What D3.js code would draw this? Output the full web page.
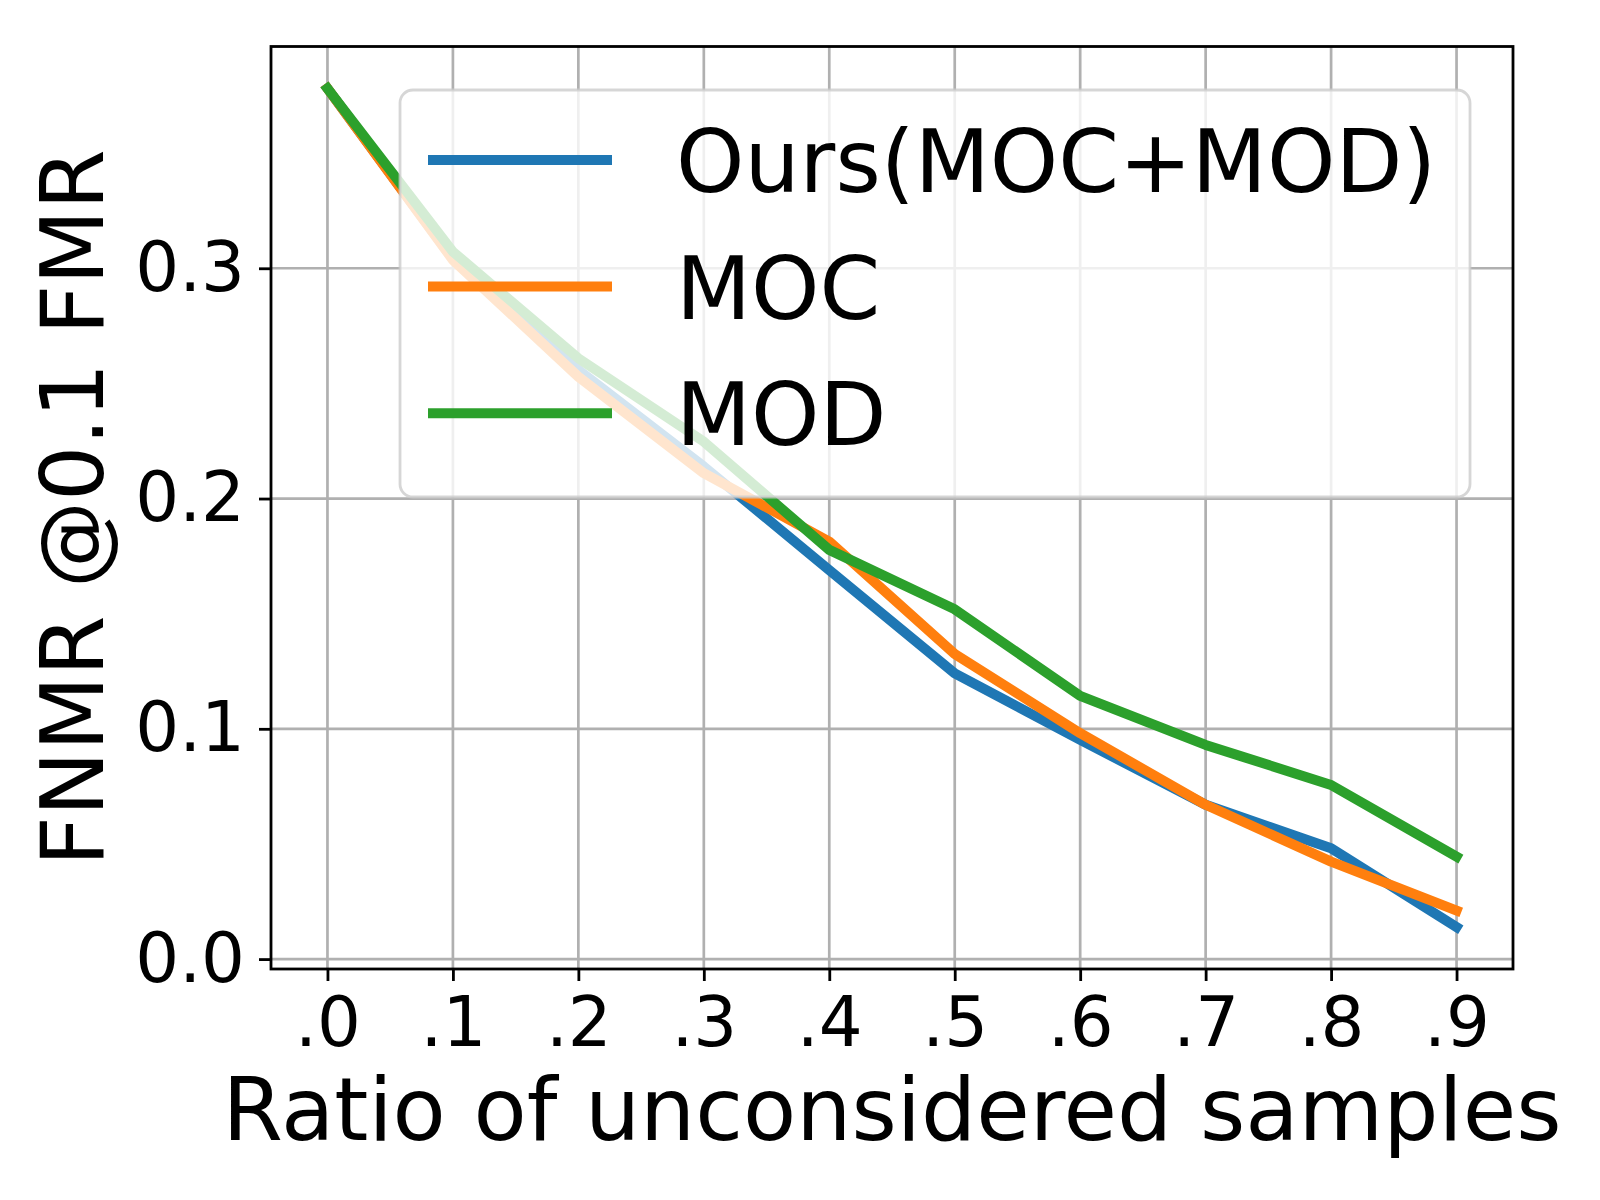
<!DOCTYPE html>
<html>
<head>
<meta charset="utf-8">
<script src="https://cdn.jsdelivr.net/npm/d3@7"></script>
<style>
  body { margin: 0; background: #fff; }
  text { font-family: "DejaVu Sans", sans-serif; fill: #000; }
</style>
</head>
<body>
<div id="chart"></div>
<script>

// data
var ratios = [0, 0.1, 0.2, 0.3, 0.4, 0.5, 0.6, 0.7, 0.8, 0.9]
var tickLabels = [".0", ".1", ".2", ".3", ".4", ".5", ".6", ".7", ".8", ".9"]
var yTicks = [0, 0.1, 0.2, 0.3]
var ours = [0.3781, 0.3040, 0.2558, 0.2139, 0.1689, 0.1241, 0.0952, 0.0670, 0.0481, 0.0139]
var moc  = [0.3781, 0.3036, 0.2529, 0.2110, 0.1813, 0.1325, 0.0981, 0.0670, 0.0423, 0.0211]
var mod  = [0.3781, 0.3072, 0.2609, 0.2247, 0.1777, 0.1519, 0.1143, 0.0930, 0.0756, 0.0445]
var seriesNames = ["Ours(MOC+MOD)", "MOC", "MOD"]
var seriesColors = ["#1f77b4", "#ff7f0e", "#2ca02c"]

var series = [ours, moc, mod].map(function(vals, i) {
  return { name: seriesNames[i], color: seriesColors[i], values: vals }
})

var width = 1600, height = 1200
var margin = { top: 46.5, right: 87, bottom: 231, left: 271 }

var svg = d3.select("#chart").append("svg")
    .attr("width", width)
    .attr("height", height)

// matplotlib style 5% padding
var xExt = d3.extent(ratios), xPad = (xExt[1] - xExt[0]) * 0.05
var allY = d3.merge([ours, moc, mod])
var yExt = d3.extent(allY), yPad = (yExt[1] - yExt[0]) * 0.05

var x = d3.scaleLinear()
    .domain([xExt[0] - xPad, xExt[1] + xPad])
    .range([margin.left, width - margin.right])
var y = d3.scaleLinear()
    .domain([yExt[0] - yPad, yExt[1] + yPad])
    .range([height - margin.bottom, margin.top])

var x0 = margin.left, x1 = width - margin.right
var y0 = height - margin.bottom, y1 = margin.top

//GRID
svg.append("g").selectAll("line.vgrid")
  .data(ratios)
  .enter().append("line")
    .attr("x1", function(d) { return x(d) })
    .attr("x2", function(d) { return x(d) })
    .attr("y1", y1).attr("y2", y0)
    .style("stroke", "#b0b0b0")
    .style("stroke-width", 2.7)

svg.append("g").selectAll("line.hgrid")
  .data(yTicks)
  .enter().append("line")
    .attr("y1", function(d) { return y(d) })
    .attr("y2", function(d) { return y(d) })
    .attr("x1", x0).attr("x2", x1)
    .style("stroke", "#b0b0b0")
    .style("stroke-width", 2.7)

//LINES
var line = d3.line()
    .x(function(d, i) { return x(ratios[i]) })
    .y(function(d) { return y(d) })

svg.append("g").selectAll("path")
  .data(series)
  .enter().append("path")
    .attr("d", function(d) { return line(d.values) })
    .style("fill", "none")
    .style("stroke", function(d) { return d.color })
    .style("stroke-width", 10)
    .style("stroke-linejoin", "round")
    .style("stroke-linecap", "square")

//AXES
var xAxis = d3.axisBottom(x)
    .tickValues(ratios)
    .tickFormat(function(d, i) { return tickLabels[i] })
    .tickSize(12)
    .tickPadding(16)
var yAxis = d3.axisLeft(y)
    .tickValues(yTicks)
    .tickFormat(d3.format(".1f"))
    .tickSize(12)
    .tickPadding(14)

var gx = svg.append("g")
    .attr("transform", "translate(0," + y0 + ")")
    .call(xAxis)
var gy = svg.append("g")
    .attr("transform", "translate(" + x0 + ",0)")
    .call(yAxis)

;[gx, gy].forEach(function(g) {
  g.select(".domain").remove()
  g.selectAll(".tick line").style("stroke", "#000").style("stroke-width", 2.8)
  g.selectAll(".tick text")
    .style("font-size", "69px")
    .style("font-family", "DejaVu Sans")
    .attr("fill", "#000")
})
gx.selectAll(".tick text").attr("dy", "0.71em")

// frame
svg.append("rect")
    .attr("x", x0).attr("y", y1)
    .attr("width", x1 - x0).attr("height", y0 - y1)
    .style("fill", "none")
    .style("stroke", "#000")
    .style("stroke-width", 2.8)

//LABELS
svg.append("text")
    .attr("x", (x0 + x1) / 2)
    .attr("y", 1140)
    .attr("text-anchor", "middle")
    .style("font-size", "87px")
    .text("Ratio of unconsidered samples")

svg.append("text")
    .attr("transform", "translate(103," + ((y0 + y1) / 2) + ") rotate(-90)")
    .attr("text-anchor", "middle")
    .style("font-size", "87px")
    .text("FNMR @0.1 FMR")

//LEGEND
var legend = svg.append("g")

legend.append("rect")
    .attr("x", 400).attr("y", 90)
    .attr("width", 1070).attr("height", 407)
    .attr("rx", 13).attr("ry", 13)
    .style("fill", "rgba(255,255,255,0.8)")
    .style("stroke", "rgba(204,204,204,0.8)")
    .style("stroke-width", 2.8)

var entry = legend.selectAll(".entry")
  .data(series)
  .enter().append("g")
    .attr("class", "entry")
    .attr("transform", function(d, i) { return "translate(0," + (160 + i * 126.6) + ")" })

entry.append("line")
    .attr("x1", 428).attr("x2", 612)
    .attr("y1", 0).attr("y2", 0)
    .style("stroke", function(d) { return d.color })
    .style("stroke-width", 10)

entry.append("text")
    .attr("x", 676)
    .attr("y", 32)
    .style("font-size", "87px")
    .text(function(d) { return d.name })

</script>
</body>
</html>
